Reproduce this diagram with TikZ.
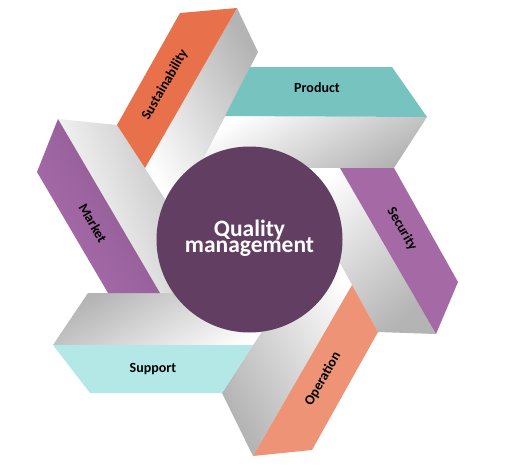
\documentclass[tikz,border=0pt]{standalone}
\usepackage{fontspec}
\setmainfont{Carlito}
\definecolor{greyd}{HTML}{B4B4B4}
\definecolor{cProd}{HTML}{77C3BF}
\definecolor{cSec}{HTML}{A56AA6}
\definecolor{cOp}{HTML}{EE9375}
\definecolor{cSup}{HTML}{B3E8E6}
\definecolor{cMktA}{HTML}{AA6DAC}
\definecolor{cMktB}{HTML}{8A5890}
\definecolor{cSus}{HTML}{E8704A}
\definecolor{cCirc}{HTML}{623F62}
\begin{document}
\begin{tikzpicture}[x=1pt,y=-1pt,
  greyface/.style={top color=white, bottom color=greyd, draw=none},
  lbl/.style={font=\fontsize{14}{16}\selectfont\bfseries, text=black, inner sep=0pt},
  ctext/.style={font=\fontsize{23.5}{26}\selectfont\bfseries, text=white, inner sep=0pt, anchor=base}]
\useasboundingbox (0,0) rectangle (515,466);
\fill[white] (0,0) rectangle (515,466);

% grey (fold) faces
\shade[greyface, shading angle=30]  (225,116) -- (427,117) -- (394,168) -- (198,168) -- cycle; % Product
\shade[greyface, shading angle=40]  (340,168) -- (436,334) -- (378,332) -- (287,168) -- cycle; % Security
\shade[greyface, shading angle=300] (352,285) -- (253,456) -- (222,393) -- (324,235) -- cycle; % Operation
\shade[greyface, shading angle=210] (253,345) -- (53,345) -- (88,293) -- (287,293) -- cycle;   % Support
\shade[greyface, shading angle=110] (160,293) -- (58,119) -- (117,125) -- (226,293) -- cycle;  % Market
\shade[greyface, shading angle=120] (145,168) -- (237,8) -- (258,52) -- (175,214) -- cycle;    % Sustainability

% coloured faces
\fill[cProd] (250,67) -- (392,67) -- (427,117) -- (225,116) -- cycle;
\fill[cSec]  (394,168) -- (458,282) -- (436,334) -- (340,168) -- cycle;
\fill[cOp]   (378,332) -- (312,450) -- (253,456) -- (352,285) -- cycle;
\fill[cSup]  (222,393) -- (90,393) -- (53,345) -- (253,345) -- cycle;
\shade[top color=cMktA, bottom color=cMktB, shading angle=120] (108,293) -- (37,172) -- (58,119) -- (160,293) -- cycle;
\fill[cSus]  (117,125) -- (180,13) -- (237,8) -- (145,168) -- cycle;

% centre
\fill[cCirc] (249.5,239.5) circle[radius=93pt];
\node[ctext] (q1) at (249.5,236) {Quality};
\node[ctext] (q2) at (249.5,252) {management};

% labels
\node[lbl] (prod) at (317,88) {Product};
\node[lbl, rotate=-60] (sec) at (402,229) {Security};
\node[lbl, rotate=60] (op) at (323,379) {Operation};
\node[lbl] (sup) at (153,369) {Support};
\node[lbl, rotate=-60] (mkt) at (93,223) {Market};
\node[lbl, rotate=60] (sus) at (165,85) {Sustainability};
\end{tikzpicture}
\end{document}
